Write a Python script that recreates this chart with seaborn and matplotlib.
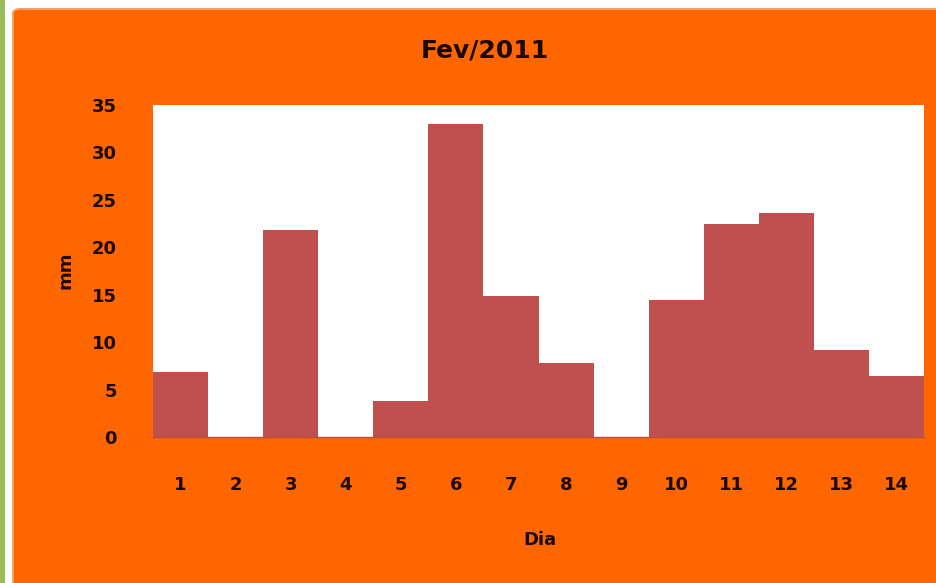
import pandas as pd
import matplotlib.pyplot as plt
import seaborn as sns
from matplotlib.patches import Rectangle, FancyBboxPatch

# daily rain, Feb/2011
dias = ["1", "2", "3", "4", "5", "6", "7", "8", "9", "10", "11", "12", "13", "14"]
chuva_mm = [6.9, 0, 21.8, 0, 3.8, 33.0, 14.9, 7.8, 0, 14.4, 22.5, 23.6, 9.2, 6.4]
yticks = [0, 5, 10, 15, 20, 25, 30, 35]

df = pd.DataFrame({"Dia": dias, "mm": chuva_mm})

sns.set_style("white")
plt.rcParams["font.family"] = ["DejaVu Sans"]

orange = "#FF6600"
bar_col = "#C0504D"
txt = "#1A0A00"

fig = plt.figure(figsize=(9.37, 5.83), dpi=100, facecolor="white")

# frame decoration: green strip at the left, orange panel
fig.patches.append(Rectangle((0, 0), 5 / 937, 1, transform=fig.transFigure,
                             facecolor="#9BBB59", edgecolor="none", zorder=-10))
fig.patches.append(FancyBboxPatch((13 / 937, -0.05), 1.0, 1 - 9 / 583 + 0.05,
                                  boxstyle="round,pad=0,rounding_size=0.008",
                                  transform=fig.transFigure, facecolor=orange,
                                  edgecolor="#F4A060", linewidth=1.5, zorder=-10))

ax = fig.add_axes([153 / 937, 1 - 437 / 583, (924 - 153) / 937, (437 - 105) / 583])
ax.set_zorder(5)
ax.set_facecolor("white")

sns.barplot(data=df, x="Dia", y="mm", color=bar_col, saturation=1,
            width=1.0, ax=ax, edgecolor="none")

ax.set_xlim(-0.5, len(dias) - 0.5)
ax.set_ylim(0, 35)
ax.set_yticks(yticks)
ax.set_yticklabels([str(v) for v in yticks])

for s in ["top", "right", "left"]:
    ax.spines[s].set_visible(False)
ax.spines["bottom"].set_color("#B05040")
ax.spines["bottom"].set_linewidth(1)

ax.tick_params(axis="y", length=0, pad=26, labelsize=13, labelcolor=txt)
ax.tick_params(axis="x", length=0, pad=28, labelsize=13, labelcolor=txt)
for lab in ax.get_xticklabels() + ax.get_yticklabels():
    lab.set_fontweight("bold")

ax.set_xlabel("")
ax.set_ylabel("")

fig.text(485 / 937, 1 - 50 / 583, "Fev/2011", ha="center", va="center",
         fontsize=18, fontweight="bold", color=txt)
fig.text(65 / 937, 1 - 270 / 583, "mm", ha="center", va="center", rotation=90,
         fontsize=13, fontweight="bold", color=txt)
fig.text(540 / 937, 1 - 540 / 583, "Dia", ha="center", va="center",
         fontsize=13, fontweight="bold", color=txt)

fig.savefig("out.png", dpi=100, facecolor=fig.get_facecolor())
